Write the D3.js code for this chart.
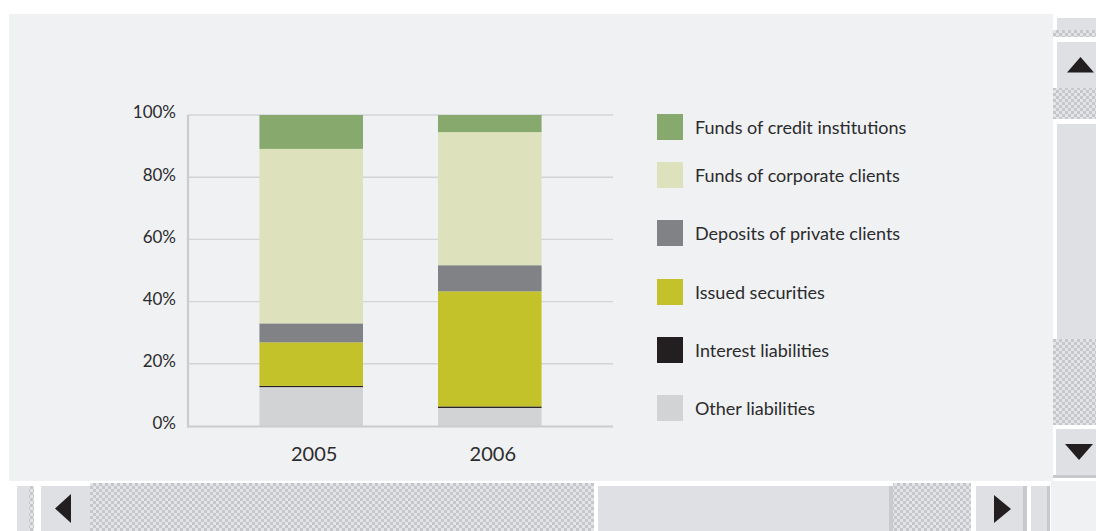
<!DOCTYPE html>
<html>
<head>
<meta charset="utf-8">
<script src="https://cdn.jsdelivr.net/npm/d3@7"></script>
<style>
  html, body { margin: 0; padding: 0; background: #ffffff; }
  svg { display: block; }
  text { font-family: Lato, "Open Sans", sans-serif; fill: #2b2b2d; }
</style>
</head>
<body>
<svg id="chart" width="1096" height="531"></svg>
<script>
// Liability structure, share of total (%)
const years = ["2005", "2006"];
const seriesNames = [
  "Other liabilities",
  "Interest liabilities",
  "Issued securities",
  "Deposits of private clients",
  "Funds of corporate clients",
  "Funds of credit institutions"
];
const otherLiabilities   = [12.5, 5.8];
const interestLiabilities = [0.4, 0.5];
const issuedSecurities   = [14.0, 37.0];
const privateDeposits    = [6.1, 8.4];
const corporateFunds     = [56.1, 42.8];
const creditFunds        = [10.9, 5.5];
const yTicks = [0, 20, 40, 60, 80, 100];

const seriesColors = ["#d2d3d5", "#231f20", "#c4c22a", "#818285", "#dde2bc", "#87a96d"];
const seriesValues = [otherLiabilities, interestLiabilities, issuedSecurities,
                      privateDeposits, corporateFunds, creditFunds];

const rows = years.map((yr, i) => {
  const r = { year: yr };
  seriesNames.forEach((s, k) => { r[s] = seriesValues[k][i]; });
  return r;
});

const svg = d3.select("#chart");

// ---------- window chrome: panel and scrollbars ----------
const defs = svg.append("defs");
const pat = defs.append("pattern")
  .attr("id", "checker").attr("patternUnits", "userSpaceOnUse")
  .attr("width", 6).attr("height", 6);
pat.append("rect").attr("width", 6).attr("height", 6).attr("fill", "#e3e4e7");
pat.append("rect").attr("width", 3).attr("height", 3).attr("fill", "#c6c7ca");
pat.append("rect").attr("x", 3).attr("y", 3).attr("width", 3).attr("height", 3).attr("fill", "#c6c7ca");

svg.append("rect").attr("width", 1096).attr("height", 531).attr("fill", "#ffffff");
svg.append("rect").attr("x", 9).attr("y", 14).attr("width", 1044).attr("height", 467).attr("fill", "#f0f1f3");
svg.append("rect").attr("x", 1051).attr("y", 481).attr("width", 45).attr("height", 50).attr("fill", "#f0f1f3");

const chrome = svg.append("g");
const box = (x, y, w, h, fill) => chrome.append("rect")
  .attr("x", x).attr("y", y).attr("width", w).attr("height", h).attr("fill", fill);

// vertical scrollbar
box(1057, 18, 39, 12, "#dfe0e3");
box(1053, 30, 43, 7, "url(#checker)");
box(1057, 42, 39, 46, "#dfe0e3");
box(1053, 88, 43, 31, "url(#checker)");
box(1057, 124, 39, 215, "#dfe0e3");
box(1053, 339, 43, 86, "url(#checker)");
box(1056, 429, 40, 46, "#dfe0e3");
box(1053, 475, 43, 3, "#c8c9cc");
chrome.append("path").attr("d", "M1080.5,57 L1094,72.5 L1067,72.5 Z").attr("fill", "#231f20");
chrome.append("path").attr("d", "M1065,444 L1093,444 L1079,460 Z").attr("fill", "#231f20");

// horizontal scrollbar
box(17, 486, 12, 45, "#dfe0e3");
box(29, 486, 5, 45, "url(#checker)");
box(41, 486, 49, 45, "#dfe0e3");
box(90, 483, 504, 48, "url(#checker)");
box(598, 486, 291, 45, "#dfe0e3");
box(889, 486, 4, 45, "#c9cacd");
box(893, 483, 78, 48, "url(#checker)");
box(976, 486, 47, 45, "#dfe0e3");
box(1023, 486, 4, 45, "#c8c9cc");
box(1031, 486, 16, 45, "#dfe0e3");
box(1047, 486, 3, 45, "#c8c9cc");
chrome.append("path").attr("d", "M55,508.5 L71,494 L71,523 Z").attr("fill", "#231f20");
chrome.append("path").attr("d", "M1011,509 L994,495 L994,523 Z").attr("fill", "#231f20");

// ---------- chart ----------
const plot = { left: 188, right: 613, top: 115, bottom: 426 };

const x = d3.scaleBand()
  .domain(years)
  .range([plot.left, plot.right])
  .paddingInner(0.42)
  .paddingOuter(0.4);

const y = d3.scaleLinear().domain([0, 100]).range([plot.bottom, plot.top]);

// gridlines
svg.append("g")
  .selectAll("line")
  .data(yTicks.filter(t => t > 0))
  .join("line")
  .attr("x1", plot.left).attr("x2", plot.right)
  .attr("y1", d => y(d)).attr("y2", d => y(d))
  .attr("stroke", "#d3d4d8").attr("stroke-width", 1.4);

// stacked bars
const stacked = d3.stack().keys(seriesNames)(rows);
svg.append("g")
  .selectAll("g")
  .data(stacked)
  .join("g")
  .attr("fill", (d, i) => seriesColors[i])
  .selectAll("rect")
  .data(d => d)
  .join("rect")
  .attr("x", d => x(d.data.year))
  .attr("width", x.bandwidth())
  .attr("y", d => y(d[1]))
  .attr("height", d => y(d[0]) - y(d[1]));

// axis lines
svg.append("line")
  .attr("x1", plot.left).attr("x2", plot.left)
  .attr("y1", plot.top).attr("y2", plot.bottom + 1.5)
  .attr("stroke", "#cbccd0").attr("stroke-width", 2.2);
svg.append("line")
  .attr("x1", plot.left - 1).attr("x2", plot.right)
  .attr("y1", plot.bottom + 0.5).attr("y2", plot.bottom + 0.5)
  .attr("stroke", "#cbccd0").attr("stroke-width", 2.2);

// y tick labels
const yAxis = svg.append("g")
  .attr("transform", `translate(${plot.left},0)`)
  .call(d3.axisLeft(y).tickValues(yTicks).tickFormat(d => d + "%").tickSize(0).tickPadding(12));
yAxis.select(".domain").remove();
yAxis.selectAll("text")
  .attr("dy", "0.17em")
  .style("font-family", "Lato, 'Open Sans', sans-serif")
  .style("font-size", "17px")
  .attr("fill", "#2b2b2d");

// x category labels
const xAxis = svg.append("g")
  .attr("transform", `translate(0,${plot.bottom})`)
  .call(d3.axisBottom(x).tickSize(0).tickPadding(21));
xAxis.select(".domain").remove();
xAxis.selectAll("text")
  .attr("dx", 3)
  .style("font-family", "Lato, 'Open Sans', sans-serif")
  .style("font-size", "20px")
  .attr("fill", "#2b2b2d");

// legend, top of the stack first
const legendRowTop = [114, 162, 220, 279, 337, 395];
const legendOrder = seriesNames.map((n, i) => ({ name: n, color: seriesColors[i] })).reverse();
const legend = svg.append("g")
  .selectAll("g")
  .data(legendOrder)
  .join("g")
  .attr("transform", (d, i) => `translate(657,${legendRowTop[i]})`);
legend.append("rect").attr("width", 26).attr("height", 26).attr("fill", d => d.color);
legend.append("text")
  .attr("x", 38).attr("y", 20)
  .style("font-size", "18px")
  .text(d => d.name);
</script>
</body>
</html>
